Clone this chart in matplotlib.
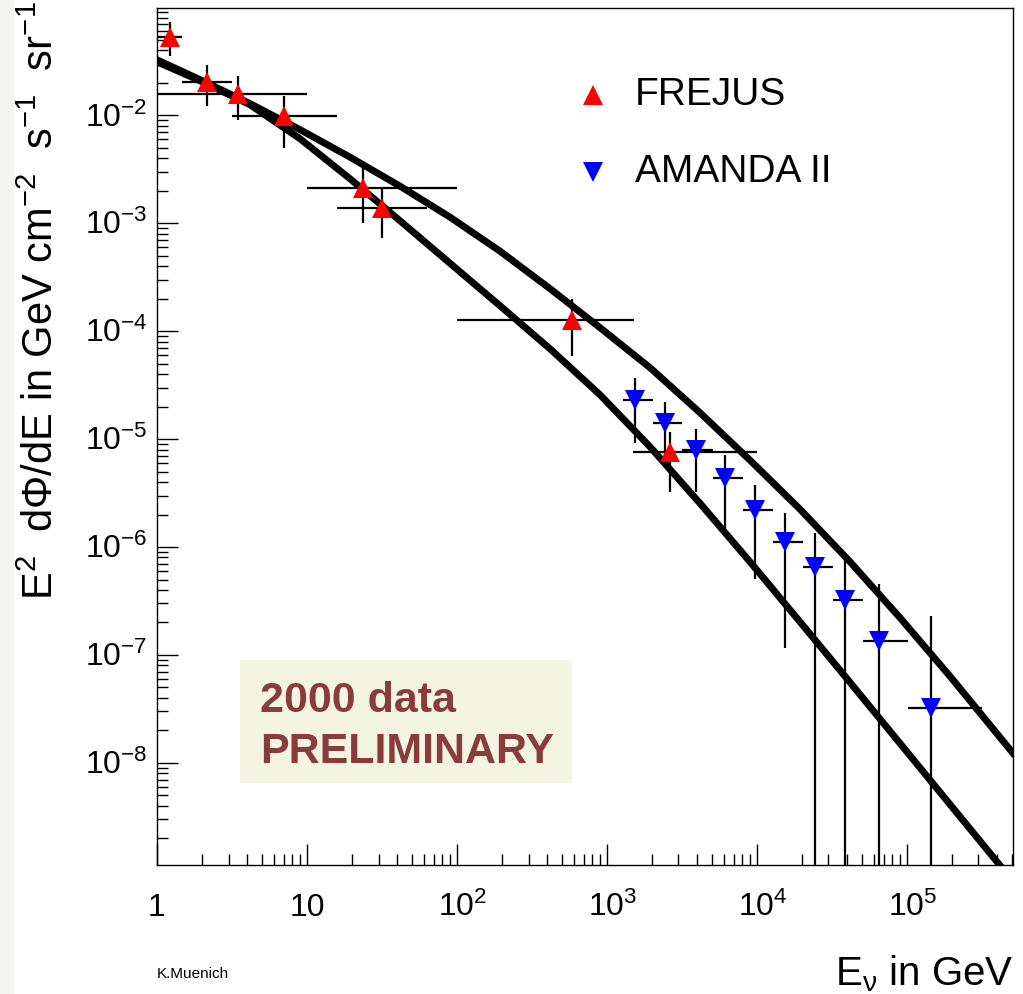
import matplotlib
matplotlib.use('Agg')
import matplotlib.pyplot as plt
import matplotlib.transforms as mtransforms
from matplotlib.patches import Rectangle
from matplotlib.ticker import LogLocator, FixedLocator, NullFormatter
import numpy as np

# FREJUS points (E in GeV, E^2 dPhi/dE)
frejus_e = [1.22, 2.14, 3.48, 7.03, 23.7, 31.5, 582, 2630]
frejus_e_lo = [1.0, 1.46, 1.0, 3.15, 10.0, 15.8, 100, 1500]
frejus_e_hi = [1.46, 3.15, 10.0, 15.85, 100, 62.8, 1514, 10000]
frejus_flux = [0.0538, 0.0206, 0.0158, 0.00982, 0.00212, 0.00139, 1.28e-4, 7.55e-6]
frejus_flux_lo = [0.0352, 0.0121, 0.0091, 0.00501, 0.0010, 0.000735, 5.84e-5, 3.27e-6]
frejus_flux_hi = [0.0741, 0.0294, 0.0230, 0.0152, 0.00336, 0.00209, 1.99e-4, 1.17e-5]

# AMANDA II points
amanda_e = [1538, 2436, 3901, 6119, 9700, 15370, 24370, 38620, 65310, 144500]
amanda_e_lo = [1273, 2017, 3148, 5066, 8030, 12730, 20180, 31970, 50650, 102000]
amanda_e_hi = [2017, 3148, 5066, 8030, 12730, 20180, 31970, 50650, 102000, 314800]
amanda_flux = [2.31e-5, 1.41e-5, 7.96e-6, 4.37e-6, 2.21e-6, 1.12e-6, 6.59e-7, 3.24e-7, 1.36e-7, 3.21e-8]
amanda_flux_lo = [9.18e-6, 6.0e-6, 3.27e-6, 1.50e-6, 5.07e-7, 1.16e-7, 0, 0, 0, 0]
amanda_flux_hi = [3.67e-5, 2.23e-5, 1.24e-5, 7.16e-6, 3.77e-6, 2.06e-6, 1.36e-6, 7.78e-7, 4.56e-7, 2.30e-7]

# model curves
curve_e = [1.0, 1.934, 4.169, 8.98, 19.35, 41.69, 89.8, 193.5, 416.9, 898,
           1935, 4169, 8983, 19350, 41690, 89830, 193500, 508900]
upper_flux = [0.03276, 0.02147, 0.01287, 0.007386, 0.004107, 0.002212, 0.001142,
              5.525e-4, 2.482e-4, 1.080e-4, 4.599e-5, 1.760e-5, 6.388e-6, 2.245e-6,
              7.320e-7, 2.216e-7, 6.36e-8, 1.232e-8]
lower_flux = [0.03139, 0.02097, 0.01257, 0.006083, 0.002590, 0.001057, 4.267e-4,
              1.723e-4, 6.88e-5, 2.580e-5, 8.51e-6, 2.546e-6, 7.31e-7, 2.031e-7,
              5.585e-8, 1.519e-8, 4.13e-9, 8.01e-10]

x_ticks = [1, 10, 100, 1e3, 1e4, 1e5]
x_labels = ['1', '10', r'$10^{2}$', r'$10^{3}$', r'$10^{4}$', r'$10^{5}$']
y_ticks = [1e-8, 1e-7, 1e-6, 1e-5, 1e-4, 1e-3, 1e-2]
y_labels = [r'$10^{-8}$', r'$10^{-7}$', r'$10^{-6}$', r'$10^{-5}$',
            r'$10^{-4}$', r'$10^{-3}$', r'$10^{-2}$']


def errs(v, lo, hi):
    v = np.array(v)
    return [v - np.array(lo), np.array(hi) - v]


def main():
    plt.rcParams['font.family'] = ['Liberation Sans', 'DejaVu Sans']
    plt.rcParams['mathtext.fontset'] = 'custom'
    plt.rcParams['mathtext.rm'] = 'Liberation Sans'
    plt.rcParams['mathtext.it'] = 'Liberation Sans'
    plt.rcParams['mathtext.bf'] = 'Liberation Sans:bold'

    fig = plt.figure(figsize=(10.23, 9.94), dpi=100)
    fig.patches.append(Rectangle((0, 0), 13 / 1023, 1, transform=fig.transFigure,
                                 color='#f5f5f3', zorder=-1))
    ax = fig.add_axes([157 / 1023, 129 / 994, 856 / 1023, 857 / 994])
    ax.set_xscale('log')
    ax.set_yscale('log')
    ax.set_xlim(1, 5.1e5)
    ax.set_ylim(1.13e-9, 0.099)

    # curves
    for f in (upper_flux, lower_flux):
        ax.plot(curve_e, f, color='black', lw=5, solid_joinstyle='round', zorder=3)

    # error bars
    ax.errorbar(frejus_e, frejus_flux, xerr=errs(frejus_e, frejus_e_lo, frejus_e_hi),
                yerr=errs(frejus_flux, frejus_flux_lo, frejus_flux_hi),
                fmt='none', ecolor='black', elinewidth=1.6, capsize=0, zorder=2)
    ax.errorbar(amanda_e, amanda_flux, xerr=errs(amanda_e, amanda_e_lo, amanda_e_hi),
                yerr=errs(amanda_flux, amanda_flux_lo, amanda_flux_hi),
                fmt='none', ecolor='black', elinewidth=1.6, capsize=0, zorder=2)
    ax.plot(frejus_e, frejus_flux, '^', color='red', ms=15, mew=0, ls='none', zorder=5)
    ax.plot(amanda_e, amanda_flux, 'v', color='blue', ms=15, mew=0, ls='none', zorder=5)

    # ticks, ROOT style
    ax.xaxis.set_major_locator(FixedLocator(x_ticks))
    ax.yaxis.set_major_locator(FixedLocator(y_ticks))
    ax.xaxis.set_minor_locator(LogLocator(base=10, subs=np.arange(2, 10), numticks=20))
    ax.yaxis.set_minor_locator(LogLocator(base=10, subs=np.arange(2, 10), numticks=20))
    ax.xaxis.set_minor_formatter(NullFormatter())
    ax.yaxis.set_minor_formatter(NullFormatter())
    ax.tick_params(which='both', direction='in', top=False, right=False,
                   labelbottom=False, labelleft=False, width=1)
    ax.tick_params(which='major', length=15)
    ax.tick_params(which='minor', length=8)
    for s in ax.spines.values():
        s.set_linewidth(1)

    xtrans = mtransforms.blended_transform_factory(ax.transData, ax.transAxes)
    for v, lab in zip(x_ticks, x_labels):
        dx = 4 if '^' in lab else 0
        t = mtransforms.offset_copy(xtrans, fig=fig, x=dx, y=-37, units='points')
        ax.text(v, 0, lab, transform=t, ha='center', va='baseline', fontsize=23)
    ytrans = mtransforms.blended_transform_factory(ax.transAxes, ax.transData)
    for v, lab in zip(y_ticks, y_labels):
        t = mtransforms.offset_copy(ytrans, fig=fig, x=-7, y=-8, units='points')
        ax.text(0, v, lab, transform=t, ha='right', va='baseline', fontsize=23)

    # legend
    ax.plot([0.509], [0.8985], '^', color='red', ms=15, mew=0, transform=ax.transAxes)
    ax.plot([0.509], [0.8086], 'v', color='blue', ms=15, mew=0, transform=ax.transAxes)
    ax.text(0.558, 0.8985, 'FREJUS', transform=ax.transAxes, va='center', fontsize=28)
    ax.text(0.558, 0.8086, 'AMANDA II', transform=ax.transAxes, va='center', fontsize=28)

    # preliminary box
    ax.add_patch(Rectangle((0.097, 0.0957), 0.388, 0.1435, transform=ax.transAxes,
                           facecolor='#f3f5e0', edgecolor='none', zorder=1))
    ax.text(0.1203, 0.1789, '2000 data', transform=ax.transAxes, fontsize=31,
            fontweight='bold', color='#8a3b3b', va='baseline', zorder=2)
    ax.text(0.1203, 0.1186, 'PRELIMINARY', transform=ax.transAxes, fontsize=31,
            fontweight='bold', color='#8a3b3b', va='baseline', zorder=2)

    # axis titles
    fig.text(42 / 1023, 1 - 1 / 994,
             r'$\mathregular{E^{2}\ \ d\Phi/dE\ in\ GeV\ cm^{-2}\ \ s^{-1}\ \ sr^{-1}}$',
             rotation=90, ha='center', va='top', fontsize=30)
    fig.text(1013 / 1023, 1 - 985 / 994, r'$\mathregular{E_{\nu}\ in\ GeV}$',
             ha='right', va='baseline', fontsize=29)
    fig.text(157 / 1023, 1 - 978 / 994, 'K.Muenich', ha='left', va='baseline', fontsize=11)

    fig.savefig('out.png', dpi=100)


if __name__ == "__main__":
    main()
